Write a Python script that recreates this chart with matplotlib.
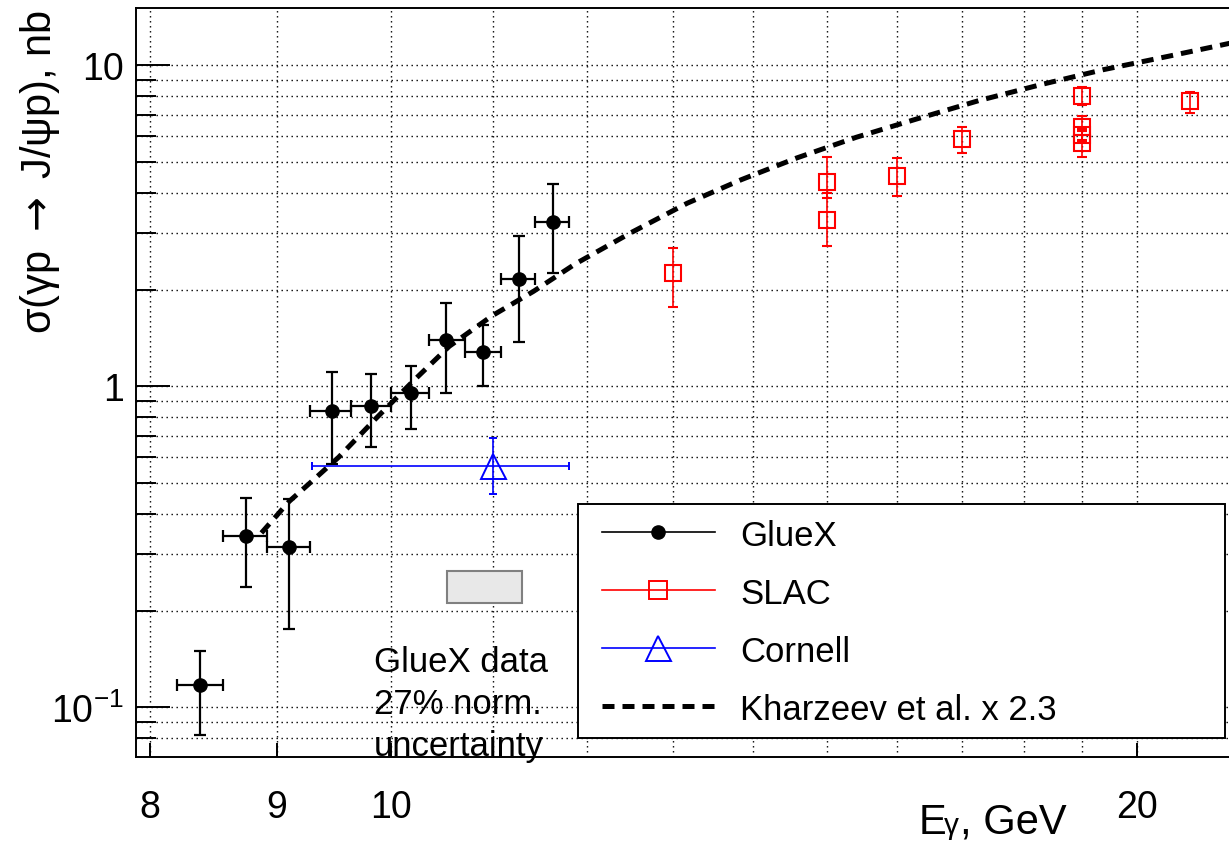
import matplotlib
matplotlib.use('Agg')
import matplotlib.pyplot as plt
from matplotlib.lines import Line2D
from matplotlib.patches import Rectangle
from matplotlib.ticker import FixedLocator, FixedFormatter, NullFormatter
import numpy as np

plt.rcParams['font.family'] = ['Liberation Sans', 'DejaVu Sans']
plt.rcParams['mathtext.fontset'] = 'custom'
plt.rcParams['mathtext.rm'] = 'Liberation Sans'
plt.rcParams['mathtext.it'] = 'Liberation Sans:italic'
plt.rcParams['mathtext.bf'] = 'Liberation Sans:bold'
plt.rcParams['mathtext.sf'] = 'DejaVu Sans'

# ---------------- data ----------------
gluex_E = [8.38, 8.74, 9.10, 9.47, 9.82, 10.19, 10.53, 10.90, 11.27, 11.63]
gluex_E_lo = [8.20, 8.56, 8.92, 9.28, 9.64, 10.00, 10.36, 10.72, 11.08, 11.44]
gluex_E_hi = [8.56, 8.92, 9.28, 9.64, 10.00, 10.36, 10.72, 11.08, 11.44, 11.80]
gluex_sigma = [0.117, 0.342, 0.315, 0.835, 0.870, 0.950, 1.39, 1.278, 2.16, 3.25]
gluex_sigma_lo = [0.082, 0.236, 0.175, 0.572, 0.648, 0.736, 0.950, 1.004, 1.373, 2.25]
gluex_sigma_hi = [0.150, 0.447, 0.445, 1.110, 1.091, 1.153, 1.816, 1.554, 2.943, 4.265]

slac_E = [13, 15, 15, 16, 17, 19, 19, 19, 19, 21]
slac_sigma = [2.25, 4.32, 3.30, 4.51, 5.89, 8.03, 6.40, 6.06, 5.72, 7.75]
slac_sigma_lo = [1.77, 3.85, 2.74, 3.905, 5.33, 7.52, 5.85, 5.80, 5.19, 7.08]
slac_sigma_hi = [2.70, 5.19, 4.00, 5.13, 6.40, 8.55, 6.96, 6.33, 6.25, 8.27]

cornell_E = [11.0]
cornell_E_lo = [9.30]
cornell_E_hi = [11.80]
cornell_sigma = [0.565]
cornell_sigma_lo = [0.4615]
cornell_sigma_hi = [0.688]

kh_E = [8.87, 9.10, 9.31, 9.53, 9.86, 10.20, 10.56, 10.99, 11.42, 11.87, 12.51,
        13.17, 13.85, 14.58, 15.41, 16.30, 17.26, 18.30, 19.38, 20.59, 21.57, 21.85]
kh_sigma = [0.349, 0.437, 0.511, 0.601, 0.790, 1.028, 1.331, 1.658, 1.975, 2.403, 3.016,
            3.714, 4.399, 5.139, 5.963, 6.80, 7.75, 8.707, 9.68, 10.66, 11.5, 11.75]

norm_box_E = [10.54, 11.30]
norm_box_sigma = [0.2104, 0.2653]

x_ticks = [8, 9, 10, 20]
x_tick_labels = ['8', '9', '10', '20']
x_minor = [11, 12, 13, 14, 15, 16, 17, 18, 19]
y_ticks = [0.1, 1, 10]
y_tick_labels = [r'$\mathregular{10^{-1}}$', '1', '10']
y_minor = [0.08, 0.09, 0.2, 0.3, 0.4, 0.5, 0.6, 0.7, 0.8, 0.9,
           2, 3, 4, 5, 6, 7, 8, 9]

legend_labels = ['GlueX', 'SLAC', 'Cornell', 'Kharzeev et al. x 2.3']
note_lines = ['GlueX data', '27% norm.', 'uncertainty']
y_title = r'σ(γp $\mathsf{\rightarrow}$ J/ψp), nb'
x_title_parts = ['E', 'γ', ', GeV']

# ---------------- layout ----------------
W, H = 1229, 845
DPI = 100
fig = plt.figure(figsize=(W / DPI, H / DPI), dpi=DPI)
fig.patch.set_facecolor('white')


def fx(px):
    return px / W


def fy(py):
    return 1 - py / H


x_min, x_max = 7.895, 22.5
y_min, y_max = 0.0701, 15.04
dec_x, dec_y = 2480.0, 321.0
ax_left_px, ax_bottom_px = 136.0, 757.7
ax_w_px = dec_x * (np.log10(x_max) - np.log10(x_min))
ax_h_px = dec_y * (np.log10(y_max) - np.log10(y_min))

ax = fig.add_axes([fx(ax_left_px), fy(ax_bottom_px), ax_w_px / W, ax_h_px / H])
ax.set_xscale('log')
ax.set_yscale('log')
ax.set_xlim(x_min, x_max)
ax.set_ylim(y_min, y_max)

for s in ax.spines.values():
    s.set_linewidth(1.4)

ax.xaxis.set_major_locator(FixedLocator(x_ticks))
ax.xaxis.set_major_formatter(FixedFormatter(x_tick_labels))
ax.xaxis.set_minor_locator(FixedLocator(x_minor))
ax.xaxis.set_minor_formatter(NullFormatter())
ax.yaxis.set_major_locator(FixedLocator(y_ticks))
ax.yaxis.set_major_formatter(FixedFormatter(y_tick_labels))
ax.yaxis.set_minor_locator(FixedLocator(y_minor))
ax.yaxis.set_minor_formatter(NullFormatter())

ax.tick_params(axis='x', which='major', direction='in', length=10.3, width=1.4,
               pad=23, labelsize=27, top=False)
ax.tick_params(axis='x', which='minor', direction='in', length=0, top=False)
ax.tick_params(axis='y', which='major', direction='in', length=24.5, width=1.4,
               pad=8.6, labelsize=27, right=False)
ax.tick_params(axis='y', which='minor', direction='in', length=14.4, width=1.4,
               right=False)

ax.grid(True, which='both', color='black', linestyle=(0, (1, 2.6)), linewidth=1.0)

# ---------------- marks ----------------
gE = np.array(gluex_E)
gS = np.array(gluex_sigma)
ax.errorbar(gE, gS,
            xerr=[gE - np.array(gluex_E_lo), np.array(gluex_E_hi) - gE],
            yerr=[gS - np.array(gluex_sigma_lo), np.array(gluex_sigma_hi) - gS],
            fmt='o', color='black', ms=9.5, elinewidth=1.6, capsize=4.2, capthick=1.6,
            zorder=5)

sE = np.array(slac_E, dtype=float)
sS = np.array(slac_sigma)
ax.errorbar(sE, sS,
            yerr=[sS - np.array(slac_sigma_lo), np.array(slac_sigma_hi) - sS],
            fmt='s', color='red', mfc='none', mec='red', ms=12, mew=1.5,
            elinewidth=1.2, capsize=3.6, capthick=1.2, zorder=5)

cE = np.array(cornell_E)
cS = np.array(cornell_sigma)
ax.errorbar(cE, cS,
            xerr=[cE - np.array(cornell_E_lo), np.array(cornell_E_hi) - cE],
            yerr=[cS - np.array(cornell_sigma_lo), np.array(cornell_sigma_hi) - cS],
            fmt='^', color='blue', mfc='none', mec='blue', ms=18, mew=1.4,
            elinewidth=1.2, capsize=3.0, capthick=1.2, zorder=5)

ax.plot(kh_E, kh_sigma, color='black', lw=3.6, linestyle=(0, (2.4, 1.6)),
        dash_capstyle='butt', zorder=4)

ax.add_patch(Rectangle((norm_box_E[0], norm_box_sigma[0]),
                       norm_box_E[1] - norm_box_E[0],
                       norm_box_sigma[1] - norm_box_sigma[0],
                       facecolor='#e8e8e8', edgecolor='#808080', lw=1.5, zorder=3))

# ---------------- texts ----------------
fig.text(fx(40), fy(10), y_title, rotation=90, rotation_mode='anchor',
         ha='right', va='center', fontsize=30)

fig.text(fx(918.5), fy(834), x_title_parts[0], ha='left', va='baseline', fontsize=30)
fig.text(fx(944.0), fy(834), x_title_parts[1], ha='left', va='baseline', fontsize=21.5)
fig.text(fx(960.5), fy(834), x_title_parts[2], ha='left', va='baseline', fontsize=30)

for line, base in zip(note_lines, [671.7, 714.0, 756.3]):
    fig.text(fx(374), fy(base), line, ha='left', va='baseline', fontsize=25, zorder=6)

# ---------------- legend ----------------
fig.add_artist(Rectangle((fx(578.3), fy(739.3)), (1225 - 578.3) / W, (739.3 - 505) / H,
                         transform=fig.transFigure, facecolor='white',
                         edgecolor='black', lw=1.4, zorder=4))
handles = [
    Line2D([], [], color='black', lw=1.2, marker='o', ms=9.5),
    Line2D([], [], color='red', lw=1.2, marker='s', ms=13, mfc='none', mew=1.4),
    Line2D([], [], color='blue', lw=1.2, marker='^', ms=18, mfc='none', mew=1.4),
    Line2D([], [], color='black', lw=3.6, linestyle=(0, (2.4, 1.6)),
           dash_capstyle='butt'),
]
leg = fig.legend(handles, legend_labels, loc='upper left',
                 bbox_to_anchor=(fx(601.7), fy(519.5)), bbox_transform=fig.transFigure,
                 frameon=False, borderpad=0, borderaxespad=0, handlelength=3.26,
                 handletextpad=0.72, labelspacing=0.72, fontsize=25, numpoints=1)
leg.set_zorder(5)

fig.savefig('out.png', dpi=DPI)
